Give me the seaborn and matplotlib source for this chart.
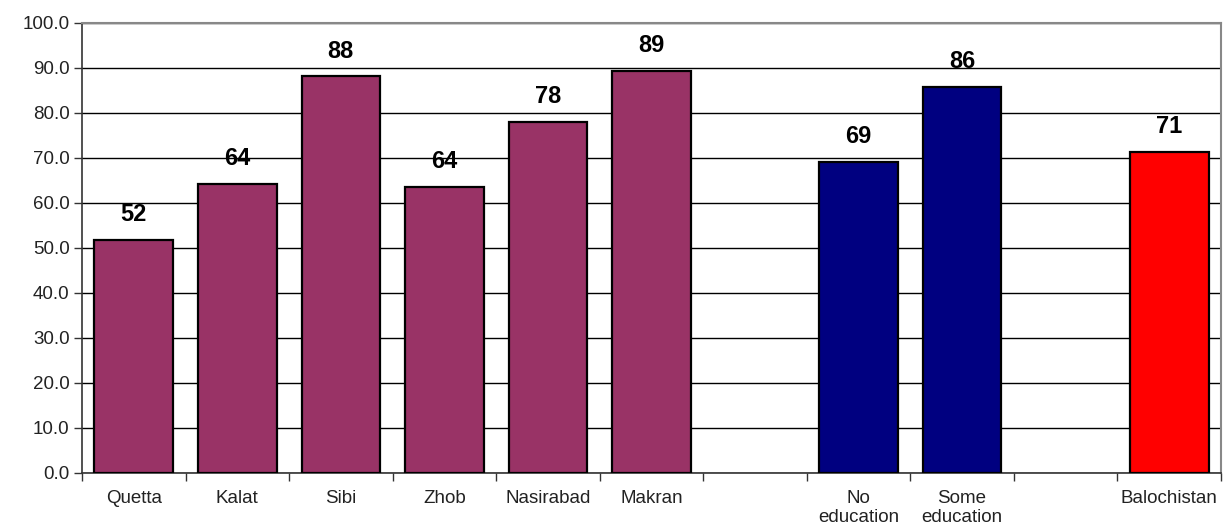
import pandas as pd
import matplotlib
matplotlib.use("Agg")
import matplotlib.pyplot as plt
import seaborn as sns
import numpy as np

# Данные
categories = ["Quetta", "Kalat", "Sibi", "Zhob", "Nasirabad", "Makran", " ",
              "No\neducation", "Some\neducation", "  ", "Balochistan"]
values = [51.8, 64.3, 88.1, 63.6, 78.0, 89.4, np.nan, 69.2, 85.8, np.nan, 71.3]
groups = ["district"] * 6 + ["blank"] + ["education"] * 2 + ["blank"] + ["province"]
group_colors = {"district": "#993366", "education": "#000080",
                "province": "#FF0000", "blank": "#FFFFFF"}
y_ticks = [0, 10, 20, 30, 40, 50, 60, 70, 80, 90, 100]

df = pd.DataFrame({"category": categories, "value": values, "group": groups})

sns.set_style("white")
plt.rcParams["font.family"] = ["Liberation Sans", "DejaVu Sans"]

fig = plt.figure(figsize=(12.24, 5.27), dpi=100)
ax = fig.add_axes([0.067, 0.1025, 0.9305, 0.854])

sns.barplot(data=df, x="category", y="value", hue="group", palette=group_colors,
            dodge=False, legend=False, width=0.76, edgecolor="black",
            linewidth=1.6, saturation=1, ax=ax, zorder=3)

# подписи над столбцами
for cont in ax.containers:
    labels = ["" if np.isnan(v) else f"{v:.0f}" for v in cont.datavalues]
    ax.bar_label(cont, labels=labels, padding=10, fontsize=17,
                 fontweight="bold", color="black")

ax.set_ylim(0, 100)
ax.set_xlim(-0.5, len(categories) - 0.5)
ax.set_yticks(y_ticks)
ax.set_yticklabels([f"{t:.1f}" for t in y_ticks])
ax.yaxis.grid(True, color="black", linewidth=1.0, zorder=0)
ax.set_axisbelow(True)

# засечки между категориями
ax.set_xticks(np.arange(-0.5, len(categories), 1.0), minor=True)
ax.tick_params(axis="x", which="major", length=0, pad=12, labelsize=13.5,
               labelcolor="#222222")
ax.tick_params(axis="x", which="minor", length=6, width=1, color="#333333",
               direction="out", bottom=True)
ax.tick_params(axis="y", which="major", length=6, width=1, color="#333333",
               direction="out", left=True, labelsize=13.5, labelcolor="#222222",
               pad=3)
for lbl in ax.get_xticklabels():
    lbl.set_linespacing(1.15)
ax.set_xlabel("")
ax.set_ylabel("")

for side in ["top", "right"]:
    ax.spines[side].set_visible(True)
    ax.spines[side].set_color("#888888")
    ax.spines[side].set_linewidth(1.5)
for side in ["left", "bottom"]:
    ax.spines[side].set_visible(True)
    ax.spines[side].set_color("#333333")
    ax.spines[side].set_linewidth(1.2)

fig.savefig("out.png", dpi=100)
